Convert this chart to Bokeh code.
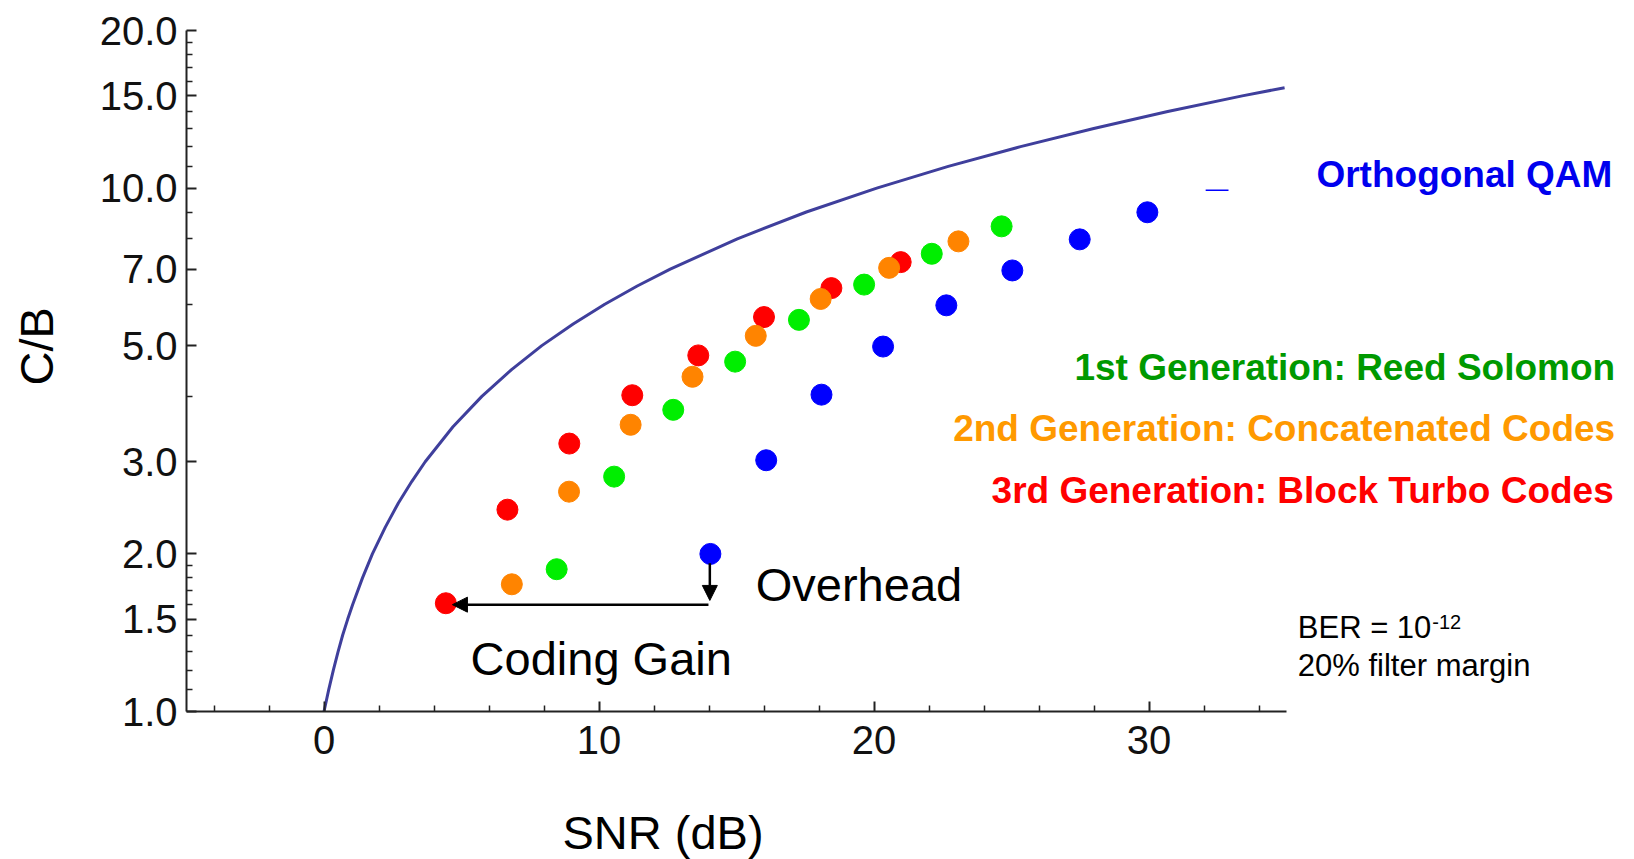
from bokeh.plotting import figure
from bokeh.models import Range1d, FixedTicker, PrintfTickFormatter, Label, Arrow, NormalHead, Title
from bokeh.embed import file_html
from bokeh.resources import INLINE

FONT = "Liberation Sans"

# Capacity bound curve: SNR (dB) vs. spectral efficiency C/B
bound_snr = [0.0, 0.17, 0.34, 0.51, 0.68, 0.86, 1.04, 1.40, 1.76, 2.23, 2.70, 3.19, 3.68,
             4.69, 5.74, 6.82, 7.92, 9.06, 10.21, 11.39, 12.59, 15.03, 17.54, 20.10,
             22.70, 25.33, 27.99, 30.68, 33.39, 34.93]
bound_cb = [1.0, 1.1, 1.2, 1.3, 1.4, 1.5, 1.6, 1.8, 2.0, 2.25, 2.5, 2.75, 3.0,
            3.5, 4.0, 4.5, 5.0, 5.5, 6.0, 6.5, 7.0, 8.0, 9.0, 10.0,
            11.0, 12.0, 13.0, 14.0, 15.0, 15.55]

# Uncoded orthogonal QAM
qam_snr = [14.05, 16.08, 18.09, 20.33, 22.63, 25.03, 27.48, 29.94]
qam_cb = [2.0, 3.02, 4.03, 4.98, 5.97, 6.96, 7.98, 8.99]

# 1st generation: Reed Solomon
rs_snr = [8.46, 10.55, 12.70, 14.95, 17.27, 19.64, 22.10, 24.64]
rs_cb = [1.87, 2.81, 3.77, 4.66, 5.60, 6.54, 7.49, 8.45]

# 2nd generation: concatenated codes
cc_snr = [6.83, 8.91, 11.15, 13.40, 15.70, 18.06, 20.55, 23.07]
cc_cb = [1.75, 2.63, 3.53, 4.36, 5.22, 6.14, 7.04, 7.91]

# 3rd generation: block turbo codes
btc_snr = [4.43, 6.67, 8.92, 11.21, 13.61, 16.00, 18.45, 20.97]
btc_cb = [1.61, 2.43, 3.25, 4.02, 4.79, 5.67, 6.44, 7.22]

x_major = [0, 10, 20, 30]
x_minor = [-4, -2, 2, 4, 6, 8, 12, 14, 16, 18, 22, 24, 26, 28, 32, 34]
y_major = [1.0, 1.5, 2.0, 3.0, 5.0, 7.0, 10.0, 15.0, 20.0]
y_minor = [1.1, 1.2, 1.3, 1.4, 1.6, 1.7, 1.8, 1.9, 4, 6, 8, 9,
           11, 12, 13, 14, 16, 17, 18, 19]

p = figure(width=1634, height=859, y_axis_type="log",
           x_range=Range1d(-5, 47.29), y_range=Range1d(1, 20),
           output_backend="svg", toolbar_location=None,
           min_border_left=186, min_border_right=10,
           min_border_top=30, min_border_bottom=148)
p.grid.visible = False
p.outline_line_color = None
p.background_fill_color = "white"

p.xaxis.bounds = (-5, 35)
p.yaxis.bounds = (1, 20)
p.xaxis.ticker = FixedTicker(ticks=x_major, minor_ticks=x_minor)
p.yaxis.ticker = FixedTicker(ticks=y_major, minor_ticks=y_minor)
p.yaxis.formatter = PrintfTickFormatter(format="%.1f")

for ax in (p.xaxis, p.yaxis):
    ax.axis_line_width = 2
    ax.axis_line_color = "#222222"
    ax.major_tick_in = 10
    ax.major_tick_out = 0
    ax.minor_tick_in = 6
    ax.minor_tick_out = 0
    ax.major_tick_line_width = 2
    ax.major_tick_line_color = "#222222"
    ax.minor_tick_line_width = 1.5
    ax.minor_tick_line_color = "#222222"
    ax.major_label_text_font = FONT
    ax.major_label_text_font_size = "40px"
    ax.major_label_text_color = "#111111"
p.yaxis.major_label_standoff = 9
p.xaxis.major_label_standoff = 14

# axis titles, each pushed away from its tick labels by an empty spacer row
p.add_layout(Title(text=" ", text_font_size="1px", standoff=44), "below")
p.add_layout(Title(text="SNR (dB)", align="left", offset=376, standoff=0,
                   text_font=FONT, text_font_size="47px", text_font_style="normal",
                   text_color="black"), "below")
p.add_layout(Title(text=" ", text_font_size="1px", standoff=31), "left")
p.add_layout(Title(text="C/B", align="left", offset=326, standoff=0,
                   text_font=FONT, text_font_size="47px", text_font_style="normal",
                   text_color="black"), "left")

p.line(bound_snr, bound_cb, line_color="#3f3f9c", line_width=3)

p.scatter(btc_snr, btc_cb, size=21, color="#FF0000")
p.scatter(cc_snr, cc_cb, size=21, color="#FF8400")
p.scatter(rs_snr, rs_cb, size=21, color="#00EE00")
p.scatter(qam_snr, qam_cb, size=21, color="#0000FF")

p.segment(x0=32.06, y0=9.9, x1=32.89, y1=9.9, line_color="#0000FF", line_width=1.5)

# coding gain and overhead arrows
p.add_layout(Arrow(x_start=13.98, y_start=1.60, x_end=4.67, y_end=1.60,
                   line_color="black", line_width=2.5,
                   end=NormalHead(size=15, fill_color="black", line_color="black")))
p.add_layout(Arrow(x_start=14.03, y_start=1.92, x_end=14.03, y_end=1.63,
                   line_color="black", line_width=2.5,
                   end=NormalHead(size=15, fill_color="black", line_color="black")))


def label(x, y, text, size, color="black", bold=False, align="left"):
    p.add_layout(Label(x=x, y=y, text=text, text_font=FONT, text_font_size=size,
                       text_color=color, text_font_style="bold" if bold else "normal",
                       text_align=align, text_baseline="alphabetic"))


label(15.70, 1.750, "Overhead", "47px")
label(5.33, 1.265, "Coding Gain", "47px")

label(35.41, 1.449, "BER = 10", "31px")
label(40.30, 1.480, "-12", "20px")
label(35.41, 1.225, "20% filter margin", "31px")

label(46.85, 10.60, "Orthogonal QAM", "37px", color="#0000EE", bold=True, align="right")
label(46.95, 4.536, "1st Generation: Reed Solomon", "37px", color="#009900", bold=True, align="right")
label(46.95, 3.467, "2nd Generation: Concatenated Codes", "37px", color="#FF9900", bold=True, align="right")
label(46.90, 2.649, "3rd Generation: Block Turbo Codes", "37px", color="#FF0000", bold=True, align="right")

open("out.html", "w").write(file_html(p, INLINE))
